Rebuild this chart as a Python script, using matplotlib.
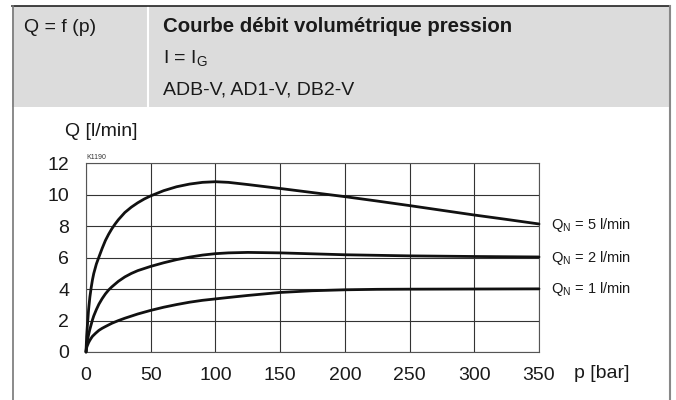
import matplotlib
matplotlib.use("Agg")
import matplotlib.pyplot as plt
from matplotlib.patches import Rectangle
from matplotlib.lines import Line2D

# pressure p [bar] and flow Q [l/min]
p_5 = [0, 0.5, 1, 2, 3, 4, 5, 6, 8, 10, 12.5, 15, 17.5, 20, 22.5, 25, 30, 35,
       40, 45, 50, 60, 70, 80, 90, 100, 110, 125, 150, 175, 200, 225, 250,
       275, 300, 325, 350]
q_5 = [0, 1.0, 1.6, 2.7, 3.5, 4.1, 4.6, 5.0, 5.6, 6.05, 6.6, 7.1, 7.5, 7.85,
       8.15, 8.42, 8.88, 9.22, 9.5, 9.74, 9.94, 10.27, 10.52, 10.69, 10.8,
       10.84, 10.8, 10.66, 10.41, 10.15, 9.89, 9.61, 9.32, 9.02, 8.72, 8.44,
       8.15]

p_2 = [0, 0.5, 1, 2, 3, 4, 5, 6, 8, 10, 12.5, 15, 17.5, 20, 25, 30, 35, 40,
       50, 60, 70, 80, 90, 100, 110, 125, 150, 175, 200, 250, 300, 350]
q_2 = [0, 0.45, 0.7, 1.1, 1.45, 1.75, 2.05, 2.3, 2.7, 3.05, 3.4, 3.7, 3.95,
       4.15, 4.5, 4.78, 5.0, 5.18, 5.45, 5.68, 5.88, 6.04, 6.17, 6.26, 6.31,
       6.34, 6.31, 6.25, 6.19, 6.12, 6.08, 6.05]

p_1 = [0, 0.5, 1, 2, 3, 4, 5, 7.5, 10, 12.5, 15, 20, 25, 30, 40, 50, 60, 70,
       80, 90, 100, 110, 125, 150, 175, 200, 225, 250, 300, 350]
q_1 = [0, 0.28, 0.4, 0.6, 0.75, 0.88, 1.0, 1.2, 1.38, 1.51, 1.62, 1.83, 2.0,
       2.15, 2.42, 2.65, 2.85, 3.02, 3.17, 3.29, 3.38, 3.47, 3.6, 3.79, 3.9,
       3.96, 3.99, 4.0, 4.01, 4.02]

curve_labels = ["Q$_\\mathregular{N}$ = 5 l/min",
                "Q$_\\mathregular{N}$ = 2 l/min",
                "Q$_\\mathregular{N}$ = 1 l/min"]
x_ticks = [0, 50, 100, 150, 200, 250, 300, 350]
y_ticks = [0, 2, 4, 6, 8, 10, 12]

W, H = 676, 400
plt.rcParams['font.family'] = ['Liberation Sans', 'DejaVu Sans']

fig = plt.figure(figsize=(W / 100, H / 100), dpi=100)


def fx(x):
    return x / W


def fy(y):
    return 1 - y / H


# header box and frame
fig.add_artist(Rectangle((fx(12), fy(107)), fx(658), 101 / H,
                         transform=fig.transFigure, facecolor='#dcdcdc',
                         edgecolor='none', zorder=0))
fig.add_artist(Line2D([fx(148), fx(148)], [fy(6), fy(107)],
                      transform=fig.transFigure, color='white', lw=1.5))
fig.add_artist(Line2D([fx(12), fx(670)], [fy(6), fy(6)],
                      transform=fig.transFigure, color='#222222', lw=1.2))
fig.add_artist(Line2D([fx(12.5), fx(12.5)], [fy(6), fy(400)],
                      transform=fig.transFigure, color='#777777', lw=1.2))
fig.add_artist(Line2D([fx(669.5), fx(669.5)], [fy(6), fy(400)],
                      transform=fig.transFigure, color='#888888', lw=1.5))

fig.text(fx(24), fy(27), "Q = f (p)", fontsize=14, va='center', ha='left',
         color='#1a1a1a')
fig.text(fx(163), fy(27), "Courbe débit volumétrique pression", fontsize=14.7,
         fontweight='bold', va='center', ha='left', color='#1a1a1a')
fig.text(fx(163), fy(59), "I = I$_\\mathregular{G}$", fontsize=14,
         va='center', ha='left', color='#1a1a1a')
fig.text(fx(163), fy(90), "ADB-V, AD1-V, DB2-V", fontsize=14,
         va='center', ha='left', color='#1a1a1a')

# chart
ax = fig.add_axes([fx(86), fy(352), fx(539 - 86), (352 - 163.5) / H])
for p, q in [(p_5, q_5), (p_2, q_2), (p_1, q_1)]:
    ax.plot(p, q, color='#111111', lw=2.0, solid_capstyle='round',
            solid_joinstyle='round', zorder=3, clip_on=False)

ax.set_xlim(0, 350)
ax.set_ylim(0, 12)
ax.set_xticks(x_ticks)
ax.set_yticks(y_ticks)
ax.grid(True, color='#333333', lw=0.8)
ax.tick_params(length=0, labelsize=14, colors='#1a1a1a')
ax.tick_params(axis='x', pad=11)
ax.tick_params(axis='y', pad=12)
for s in ax.spines.values():
    s.set_color('#555555')
    s.set_linewidth(0.8)

label_y = [225, 258, 289]
for lbl, y in zip(curve_labels, label_y):
    fig.text(fx(551), fy(y), lbl, fontsize=10.5, va='center', ha='left',
             color='#1a1a1a')

fig.text(fx(101), fy(132), "Q [l/min]", fontsize=14, va='center',
         ha='center', color='#1a1a1a')
fig.text(fx(574), fy(374), "p [bar]", fontsize=14, va='center', ha='left',
         color='#1a1a1a')
fig.text(fx(86), fy(157), "K1190", fontsize=5, va='center', ha='left',
         color='#333333')

fig.savefig("out.png", dpi=100)
